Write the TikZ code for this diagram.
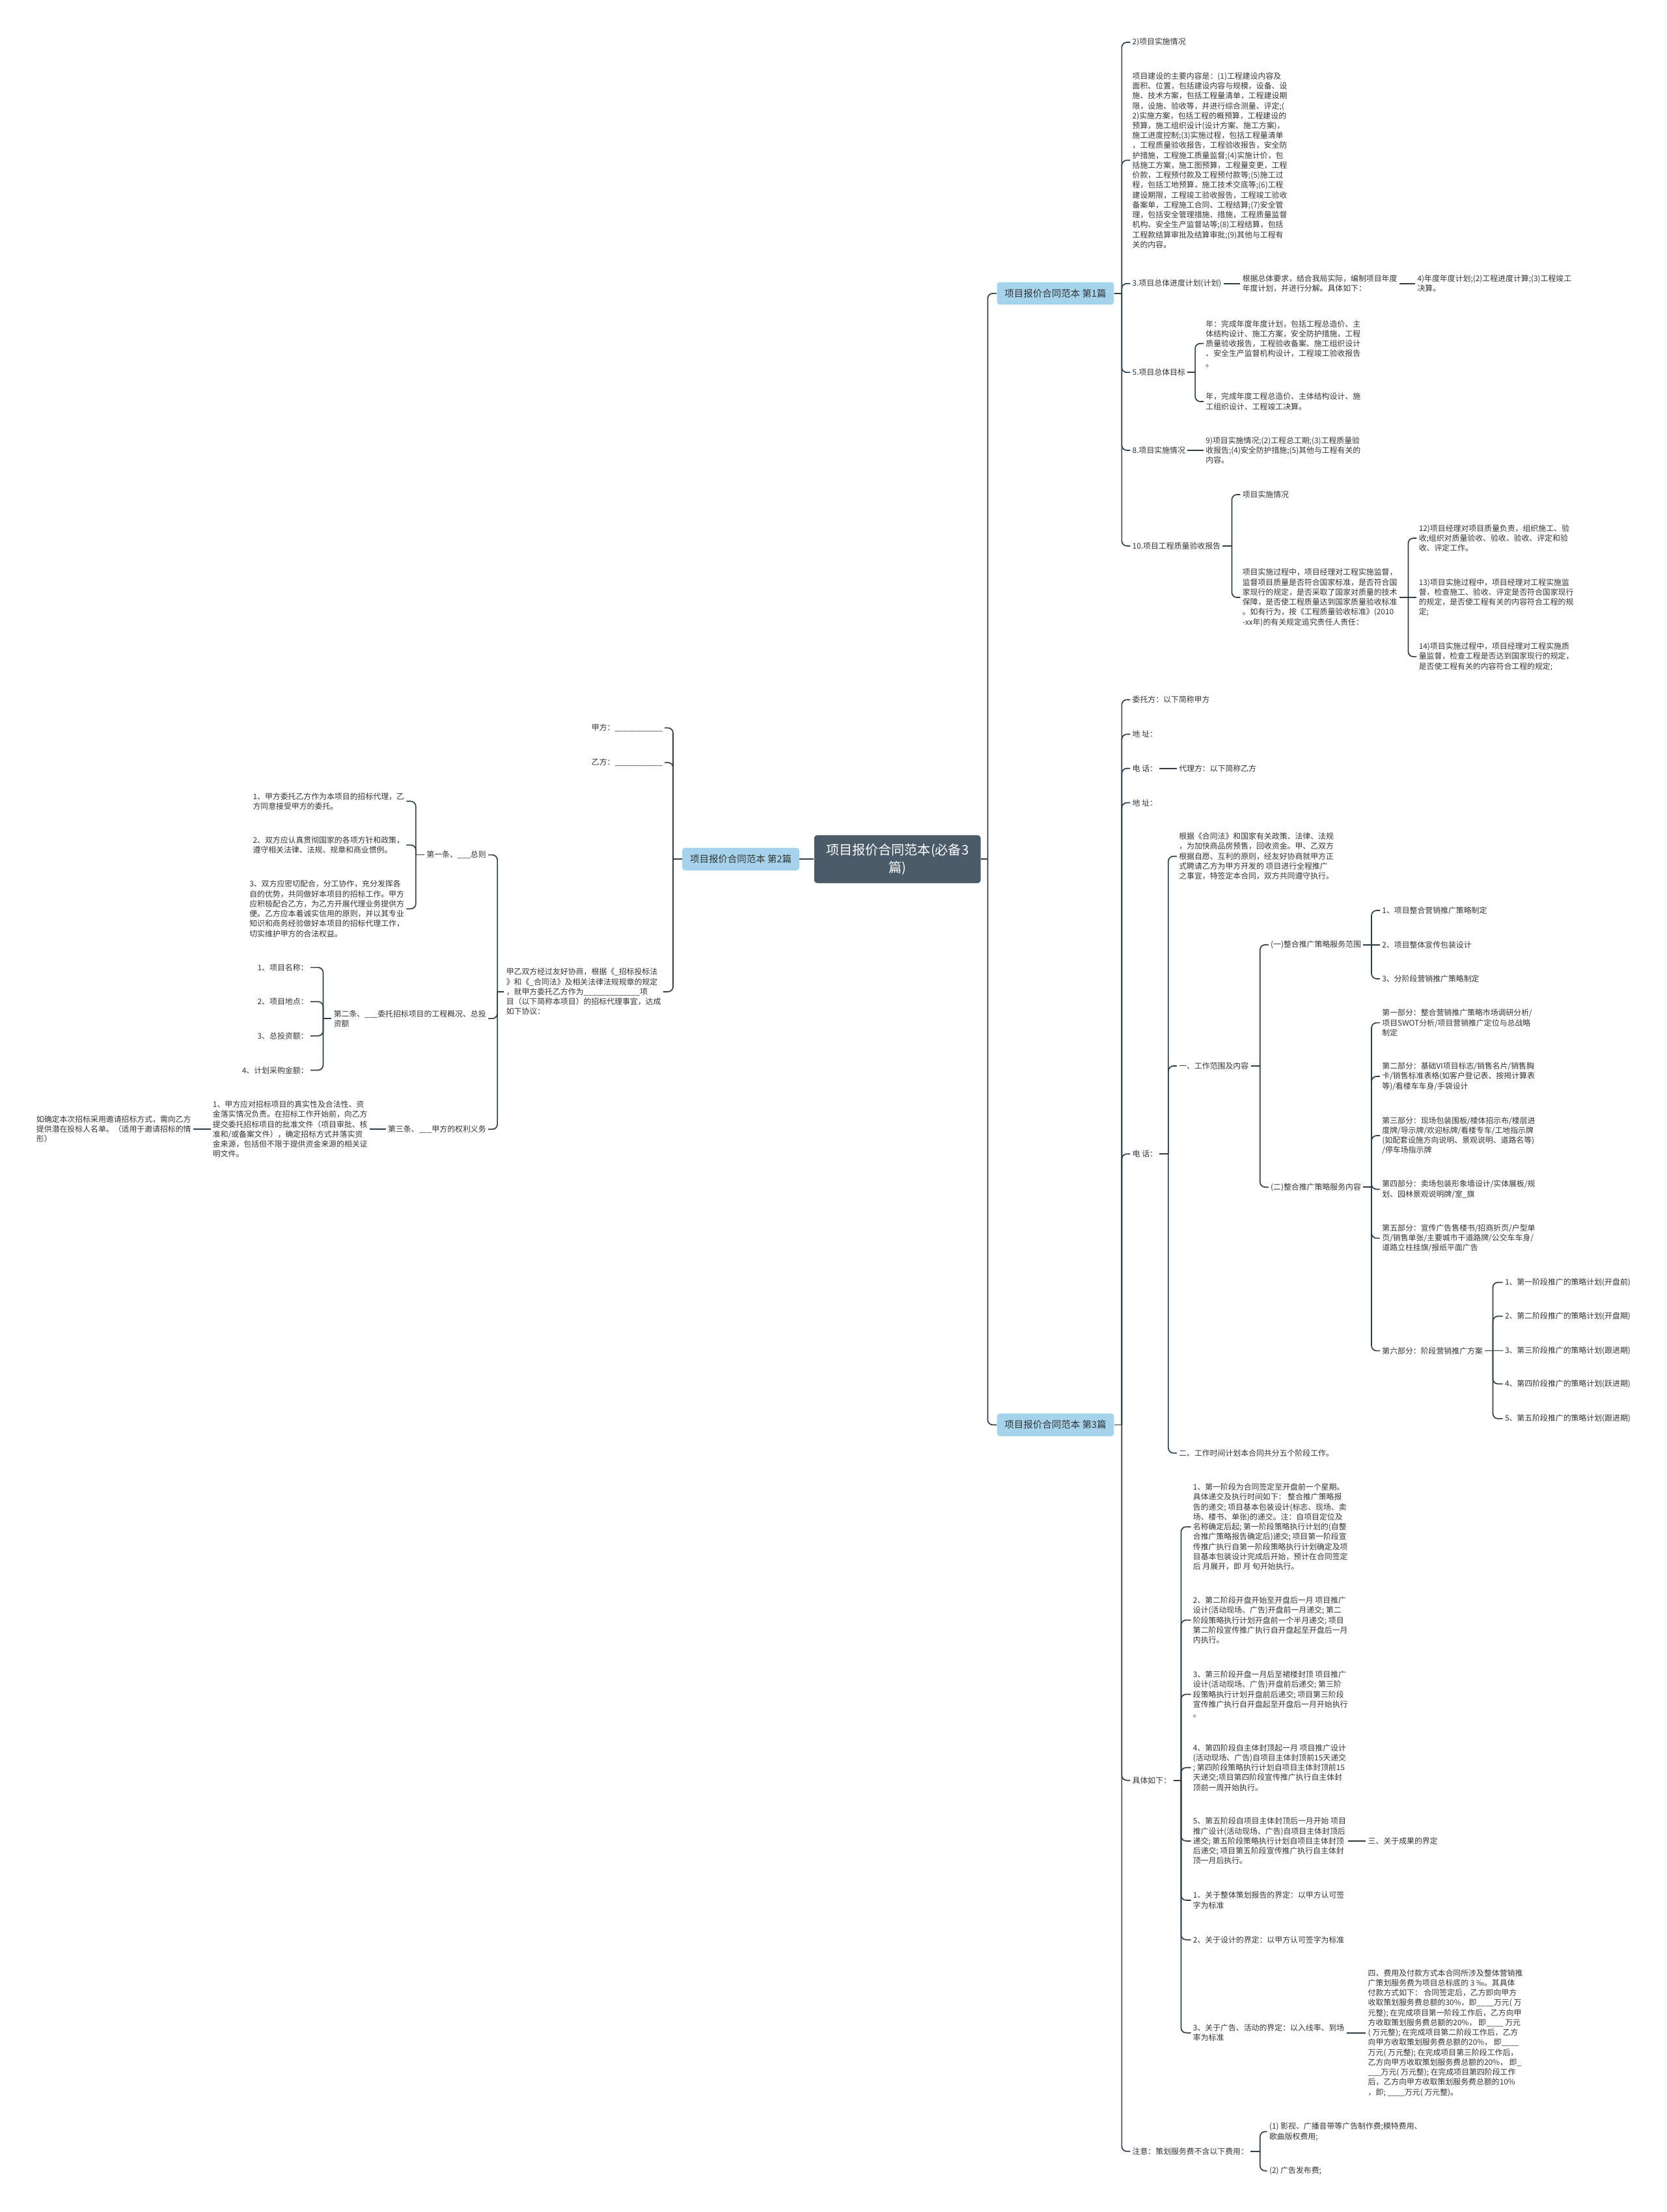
\documentclass[tikz,border=0pt]{standalone}
\usepackage{fontspec}
\setmainfont{Noto Sans CJK SC}
\definecolor{linkc}{HTML}{2E3D4A}
\definecolor{rootc}{HTML}{4B5B6A}
\definecolor{secc}{HTML}{A5D3EC}
\definecolor{txtc}{HTML}{333333}
\newcommand{\txtfont}{\fontsize{7.8}{10}\selectfont}
\newcommand{\secfont}{\fontsize{9.5}{11}\selectfont}
\newcommand{\rootfont}{\fontsize{13.2}{17.5}\selectfont}

\begin{document}
\begin{tikzpicture}[x=0.05cm, y=-0.05cm,
  rootbox/.style={rounded corners=3pt, fill=rootc, text=white, align=center, minimum width=5.9cm, minimum height=1.7cm, inner sep=1pt, font=\rootfont},
  topic/.style={rounded corners=3pt, fill=secc, text=txtc, minimum width=4.15cm, minimum height=0.8cm, inner sep=1pt, font=\secfont},
  leaf/.style={anchor=west, align=left, inner sep=2pt, text=txtc, font=\txtfont},
  leafl/.style={leaf, anchor=east},
  link/.style={draw=linkc, line width=1.1pt, rounded corners=0.18cm}]
\useasboundingbox (0,0) rectangle (1181,1568);

\node[rootbox] (root) at (636,609) {项目报价合同范本(必备3\\篇)};
\node[topic] (s1) at (748,208) {项目报价合同范本 第1篇};
\node[topic] (s2) at (525,609) {项目报价合同范本 第2篇};
\node[topic] (s3) at (748,1010) {项目报价合同范本 第3篇};
\coordinate (jr) at (700,609);
\draw[link] (root) -- (jr);
\draw[link] (jr) |- (s1);
\draw[link] (jr) |- (s3);
\draw[link] (root) -- (s2);

\node[leaf] (a1) at (801,30) {2)项目实施情况};
\node[leaf] (a2) at (801,113.6) {项目建设的主要内容是：(1)工程建设内容及\\面积、位置，包括建设内容与规模，设备、设\\施、技术方案，包括工程量清单，工程建设期\\限，设施、验收等，并进行综合测量、评定;(\\2)实施方案，包括工程的概预算，工程建设的\\预算，施工组织设计(设计方案、施工方案)，\\施工进度控制;(3)实施过程，包括工程量清单\\，工程质量验收报告，工程验收报告，安全防\\护措施，工程施工质量监督;(4)实施计价，包\\括施工方案，施工图预算，工程量变更，工程\\价款，工程预付款及工程预付款等;(5)施工过\\程，包括工地预算，施工技术交底等;(6)工程\\建设期限，工程竣工验收报告，工程竣工验收\\备案单，工程施工合同、工程结算;(7)安全管\\理，包括安全管理措施、措施，工程质量监督\\机构、安全生产监督站等;(8)工程结算，包括\\工程款结算审批及结算审批;(9)其他与工程有\\关的内容。};
\node[leaf] (a3) at (801,201) {3.项目总体进度计划(计划)};
\node[leaf] (a31) at (879,201) {根据总体要求，结合我局实际，编制项目年度\\年度计划，并进行分解。具体如下：};
\node[leaf] (a32) at (1003,201) {4)年度年度计划;(2)工程进度计算;(3)工程竣工\\决算。};
\node[leaf] (a5) at (801,264) {5.项目总体目标};
\node[leaf] (a51) at (853,243.5) {年：完成年度年度计划，包括工程总造价、主\\体结构设计、施工方案，安全防护措施，工程\\质量验收报告，工程验收备案、施工组织设计\\、安全生产监督机构设计，工程竣工验收报告\\。};
\node[leaf] (a52) at (853,284.6) {年，完成年度工程总造价、主体结构设计、施\\工组织设计、工程竣工决算。};
\node[leaf] (a8) at (801,319.2) {8.项目实施情况};
\node[leaf] (a81) at (853,319.2) {9)项目实施情况;(2)工程总工期;(3)工程质量验\\收报告;(4)安全防护措施;(5)其他与工程有关的\\内容。};
\node[leaf] (a10) at (801,387) {10.项目工程质量验收报告};
\node[leaf] (a101) at (879,350.6) {项目实施情况};
\node[leaf] (a102) at (879,423.5) {项目实施过程中，项目经理对工程实施监督，\\监督项目质量是否符合国家标准，是否符合国\\家现行的规定，是否采取了国家对质量的技术\\保障，是否使工程质量达到国家质量验收标准\\。如有行为，按《工程质量验收标准》(2010\\-xx年)的有关规定追究责任人责任：};
\node[leaf] (a1021) at (1004,381.5) {12)项目经理对项目质量负责，组织施工、验\\收;组织对质量验收、验收、验收、评定和验\\收、评定工作。};
\node[leaf] (a1022) at (1004,423.5) {13)项目实施过程中，项目经理对工程实施监\\督，检查施工、验收、评定是否符合国家现行\\的规定，是否使工程有关的内容符合工程的规\\定;};
\node[leaf] (a1023) at (1004,465.5) {14)项目实施过程中，项目经理对工程实施质\\量监督，检查工程是否达到国家现行的规定，\\是否使工程有关的内容符合工程的规定;};
\coordinate (j1) at (795,208);
\coordinate (j5) at (847,264);
\coordinate (j10) at (873,387);
\coordinate (j102) at (998,423.5);
\draw[link] (s1) -- (j1);
\draw[link] (j1) |- (a1);
\draw[link] (j1) |- (a2);
\draw[link] (j1) |- (a3);
\draw[link] (j1) |- (a5);
\draw[link] (j1) |- (a8);
\draw[link] (j1) |- (a10);
\draw[link] (a3) -- (a31);
\draw[link] (a31) -- (a32);
\draw[link] (a5) -- (j5);
\draw[link] (j5) |- (a51);
\draw[link] (j5) |- (a52);
\draw[link] (a8) -- (a81);
\draw[link] (a10) -- (j10);
\draw[link] (j10) |- (a101);
\draw[link] (j10) |- (a102);
\draw[link] (a102) -- (j102);
\draw[link] (j102) |- (a1021);
\draw[link] (j102) -- (a1022);
\draw[link] (j102) |- (a1023);

\node[leaf] (b1) at (801,496) {委托方：以下简称甲方};
\node[leaf] (b2) at (801,520.5) {地 址：};
\node[leaf] (b3) at (801,544.7) {电 话：};
\node[leaf] (b31) at (834,544.7) {代理方：以下简称乙方};
\node[leaf] (b4) at (801,569) {地 址：};
\node[leaf] (b5) at (801,818) {电 话：};
\node[leaf] (b51) at (834,607) {根据《合同法》和国家有关政策、法律、法规\\，为加快商品房预售，回收资金。甲、乙双方\\根据自愿、互利的原则，经友好协商就甲方正\\式聘请乙方为甲方开发的 项目进行全程推广\\之事宜，特签定本合同，双方共同遵守执行。};
\node[leaf] (b52) at (834,755.6) {一、工作范围及内容};
\node[leaf] (b521) at (899,669.7) {(一)整合推广策略服务范围};
\node[leaf] (b5211) at (978,645.4) {1、项目整合营销推广策略制定};
\node[leaf] (b5212) at (978,669.7) {2、项目整体宣传包装设计};
\node[leaf] (b5213) at (978,693.8) {3、分阶段营销推广策略制定};
\node[leaf] (b522) at (899,841.5) {(二)整合推广策略服务内容};
\node[leaf] (b5221) at (978,725) {第一部分：整合营销推广策略市场调研分析/\\项目SWOT分析/项目营销推广定位与总战略\\制定};
\node[leaf] (b5222) at (978,763) {第二部分：基础VI项目标志/销售名片/销售胸\\卡/销售标准表格(如客户登记表、按揭计算表\\等)/看楼车车身/手袋设计};
\node[leaf] (b5223) at (978,805) {第三部分：现场包装围板/楼体招示布/楼层进\\度牌/导示牌/欢迎标牌/看楼专车/工地指示牌\\(如配套设施方向说明、景观说明、道路名等)\\/停车场指示牌};
\node[leaf] (b5224) at (978,843) {第四部分：卖场包装形象墙设计/实体展板/规\\划、园林景观说明牌/室\_旗};
\node[leaf] (b5225) at (978,877.7) {第五部分：宣传广告售楼书/招商折页/户型单\\页/销售单张/主要城市干道路牌/公交车车身/\\道路立柱挂旗/报纸平面广告};
\node[leaf] (b5226) at (978,957.5) {第六部分：阶段营销推广方案};
\node[leaf] (st1) at (1065,909) {1、第一阶段推广的策略计划(开盘前)};
\node[leaf] (st2) at (1065,933) {2、第二阶段推广的策略计划(开盘期)};
\node[leaf] (st3) at (1065,957.5) {3、第三阶段推广的策略计划(跟进期)};
\node[leaf] (st4) at (1065,981) {4、第四阶段推广的策略计划(跃进期)};
\node[leaf] (st5) at (1065,1005.6) {5、第五阶段推广的策略计划(跟进期)};
\node[leaf] (b53) at (834,1030) {二、工作时间计划本合同共分五个阶段工作。};
\node[leaf] (b6) at (801,1262) {具体如下：};
\node[leaf] (b61) at (844,1082.3) {1、第一阶段为合同签定至开盘前一个星期。\\具体递交及执行时间如下： 整合推广策略报\\告的递交; 项目基本包装设计(标志、现场、卖\\场、楼书、单张)的递交。注：自项目定位及\\名称确定后起; 第一阶段策略执行计划的(自整\\合推广策略报告确定后)递交; 项目第一阶段宣\\传推广执行自第一阶段策略执行计划确定及项\\目基本包装设计完成后开始，预计在合同签定\\后 月展开，即 月 旬开始执行。};
\node[leaf] (b62) at (844,1148.4) {2、第二阶段开盘开始至开盘后一月 项目推广\\设计(活动现场、广告)开盘前一月递交; 第二\\阶段策略执行计划开盘前一个半月递交; 项目\\第二阶段宣传推广执行自开盘起至开盘后一月\\内执行。};
\node[leaf] (b63) at (844,1201) {3、第三阶段开盘一月后至裙楼封顶 项目推广\\设计(活动现场、广告)开盘前后递交; 第三阶\\段策略执行计划开盘前后递交; 项目第三阶段\\宣传推广执行自开盘起至开盘后一月开始执行\\。};
\node[leaf] (b64) at (844,1253) {4、第四阶段自主体封顶起一月 项目推广设计\\(活动现场、广告)自项目主体封顶前15天递交\\; 第四阶段策略执行计划自项目主体封顶前15\\天递交;项目第四阶段宣传推广执行自主体封\\顶前一周开始执行。};
\node[leaf] (b65) at (844,1305) {5、第五阶段自项目主体封顶后一月开始 项目\\推广设计(活动现场、广告)自项目主体封顶后\\递交; 第五阶段策略执行计划自项目主体封顶\\后递交; 项目第五阶段宣传推广执行自主体封\\顶一月后执行。};
\node[leaf] (b651) at (968,1305) {三、关于成果的界定};
\node[leaf] (b66) at (844,1347) {1、关于整体策划报告的界定：以甲方认可签\\字为标准};
\node[leaf] (b67) at (844,1375) {2、关于设计的界定：以甲方认可签字为标准};
\node[leaf] (b68) at (844,1441) {3、关于广告、活动的界定：以入线率、到场\\率为标准};
\node[leaf] (b681) at (968,1441) {四、费用及付款方式本合同所涉及整体营销推\\广策划服务费为项目总标底的 3 ‰。其具体\\付款方式如下： 合同签定后，乙方即向甲方\\收取策划服务费总额的30\%，即\_\_\_\_万元( 万\\元整); 在完成项目第一阶段工作后，乙方向甲\\方收取策划服务费总额的20\%， 即\_\_\_\_ 万元\\( 万元整); 在完成项目第二阶段工作后，乙方\\向甲方收取策划服务费总额的20\%， 即\_\_\_\_\\万元( 万元整); 在完成项目第三阶段工作后，\\乙方向甲方收取策划服务费总额的20\%， 即\_\\\_\_\_万元( 万元整); 在完成项目第四阶段工作\\后，乙方向甲方收取策划服务费总额的10\%\\，即; \_\_\_\_万元( 万元整)。};
\node[leaf] (b7) at (801,1525) {注意：策划服务费不含以下费用：};
\node[leaf] (b71) at (898,1511) {(1) 影视、广播音带等广告制作费;模特费用、\\歌曲版权费用;};
\node[leaf] (b72) at (898,1538.8) {(2) 广告发布费;};
\coordinate (j3) at (795,1010);
\coordinate (j5b) at (828,818);
\coordinate (j52) at (893,755.6);
\coordinate (j521) at (972,669.7);
\coordinate (j522) at (972,841.5);
\coordinate (j5226) at (1058,957.5);
\coordinate (j6) at (837,1262);
\coordinate (j7) at (893,1525);
\draw[link] (s3) -- (j3);
\draw[link] (j3) |- (b1);
\draw[link] (j3) |- (b2);
\draw[link] (j3) |- (b3);
\draw[link] (j3) |- (b4);
\draw[link] (j3) |- (b5);
\draw[link] (j3) |- (b6);
\draw[link] (j3) |- (b7);
\draw[link] (b3) -- (b31);
\draw[link] (b5) -- (j5b);
\draw[link] (j5b) |- (b51);
\draw[link] (j5b) |- (b52);
\draw[link] (j5b) |- (b53);
\draw[link] (b52) -- (j52);
\draw[link] (j52) |- (b521);
\draw[link] (j52) |- (b522);
\draw[link] (b521) -- (j521);
\draw[link] (j521) |- (b5211);
\draw[link] (j521) -- (b5212);
\draw[link] (j521) |- (b5213);
\draw[link] (b522) -- (j522);
\draw[link] (j522) |- (b5221);
\draw[link] (j522) |- (b5222);
\draw[link] (j522) |- (b5223);
\draw[link] (j522) |- (b5224);
\draw[link] (j522) |- (b5225);
\draw[link] (j522) |- (b5226);
\draw[link] (b5226) -- (j5226);
\draw[link] (j5226) |- (st1);
\draw[link] (j5226) |- (st2);
\draw[link] (j5226) -- (st3);
\draw[link] (j5226) |- (st4);
\draw[link] (j5226) |- (st5);
\draw[link] (b6) -- (j6);
\draw[link] (j6) |- (b61);
\draw[link] (j6) |- (b62);
\draw[link] (j6) |- (b63);
\draw[link] (j6) |- (b64);
\draw[link] (j6) |- (b65);
\draw[link] (j6) |- (b66);
\draw[link] (j6) |- (b67);
\draw[link] (j6) |- (b68);
\draw[link] (b65) -- (b651);
\draw[link] (b68) -- (b681);
\draw[link] (b7) -- (j7);
\draw[link] (j7) |- (b71);
\draw[link] (j7) |- (b72);

\node[leafl] (c1) at (471,516) {甲方：\_\_\_\_\_\_\_\_\_\_\_};
\node[leafl] (c2) at (471,540.5) {乙方：\_\_\_\_\_\_\_\_\_\_\_};
\node[leafl] (c3) at (470,703) {甲乙双方经过友好协商，根据《\_招标投标法\\》和《\_合同法》及相关法律法规规章的规定\\，就甲方委托乙方作为\_\_\_\_\_\_\_\_\_\_\_\_\_项\\目（以下简称本项目）的招标代理事宜，达成\\如下协议：};
\node[leafl] (c31) at (346,606) {第一条、\_\_\_总则};
\node[leafl] (c311) at (288,568) {1、甲方委托乙方作为本项目的招标代理，乙\\方同意接受甲方的委托。};
\node[leafl] (c312) at (288,599) {2、双方应认真贯彻国家的各项方针和政策，\\遵守相关法律、法规、规章和商业惯例。};
\node[leafl] (c313) at (288,644.2) {3、双方应密切配合，分工协作，充分发挥各\\自的优势，共同做好本项目的招标工作。甲方\\应积极配合乙方，为乙方开展代理业务提供方\\便。乙方应本着诚实信用的原则，并以其专业\\知识和商务经验做好本项目的招标代理工作，\\切实维护甲方的合法权益。};
\node[leafl] (c32) at (346,722) {第二条、\_\_\_委托招标项目的工程概况、总投\\资额};
\node[leafl] (c321) at (220,685.8) {1、项目名称：};
\node[leafl] (c322) at (220,710) {2、项目地点：};
\node[leafl] (c323) at (220,734.3) {3、总投资额：};
\node[leafl] (c324) at (220,758.6) {4、计划采购金额：};
\node[leafl] (c33) at (346,800.5) {第三条、\_\_\_甲方的权利义务};
\node[leafl] (c331) at (262,800.5) {1、甲方应对招标项目的真实性及合法性、资\\金落实情况负责。在招标工作开始前，向乙方\\提交委托招标项目的批准文件（项目审批、核\\准和/或备案文件），确定招标方式并落实资\\金来源，包括但不限于提供资金来源的相关证\\明文件。};
\node[leafl] (c3311) at (137,800.5) {如确定本次招标采用邀请招标方式，需向乙方\\提供潜在投标人名单。（适用于邀请招标的情\\形）};
\coordinate (jl) at (477,609);
\coordinate (j3l) at (352.5,703);
\coordinate (j31) at (294.7,606);
\coordinate (j32) at (229,722);
\draw[link] (s2) -- (jl);
\draw[link] (jl) |- (c1);
\draw[link] (jl) |- (c2);
\draw[link] (jl) |- (c3);
\draw[link] (c3) -- (j3l);
\draw[link] (j3l) |- (c31);
\draw[link] (j3l) |- (c32);
\draw[link] (j3l) |- (c33);
\draw[link] (c31) -- (j31);
\draw[link] (j31) |- (c311);
\draw[link] (j31) |- (c312);
\draw[link] (j31) |- (c313);
\draw[link] (c32) -- (j32);
\draw[link] (j32) |- (c321);
\draw[link] (j32) |- (c322);
\draw[link] (j32) |- (c323);
\draw[link] (j32) |- (c324);
\draw[link] (c33) -- (c331);
\draw[link] (c331) -- (c3311);
\end{tikzpicture}
\end{document}
